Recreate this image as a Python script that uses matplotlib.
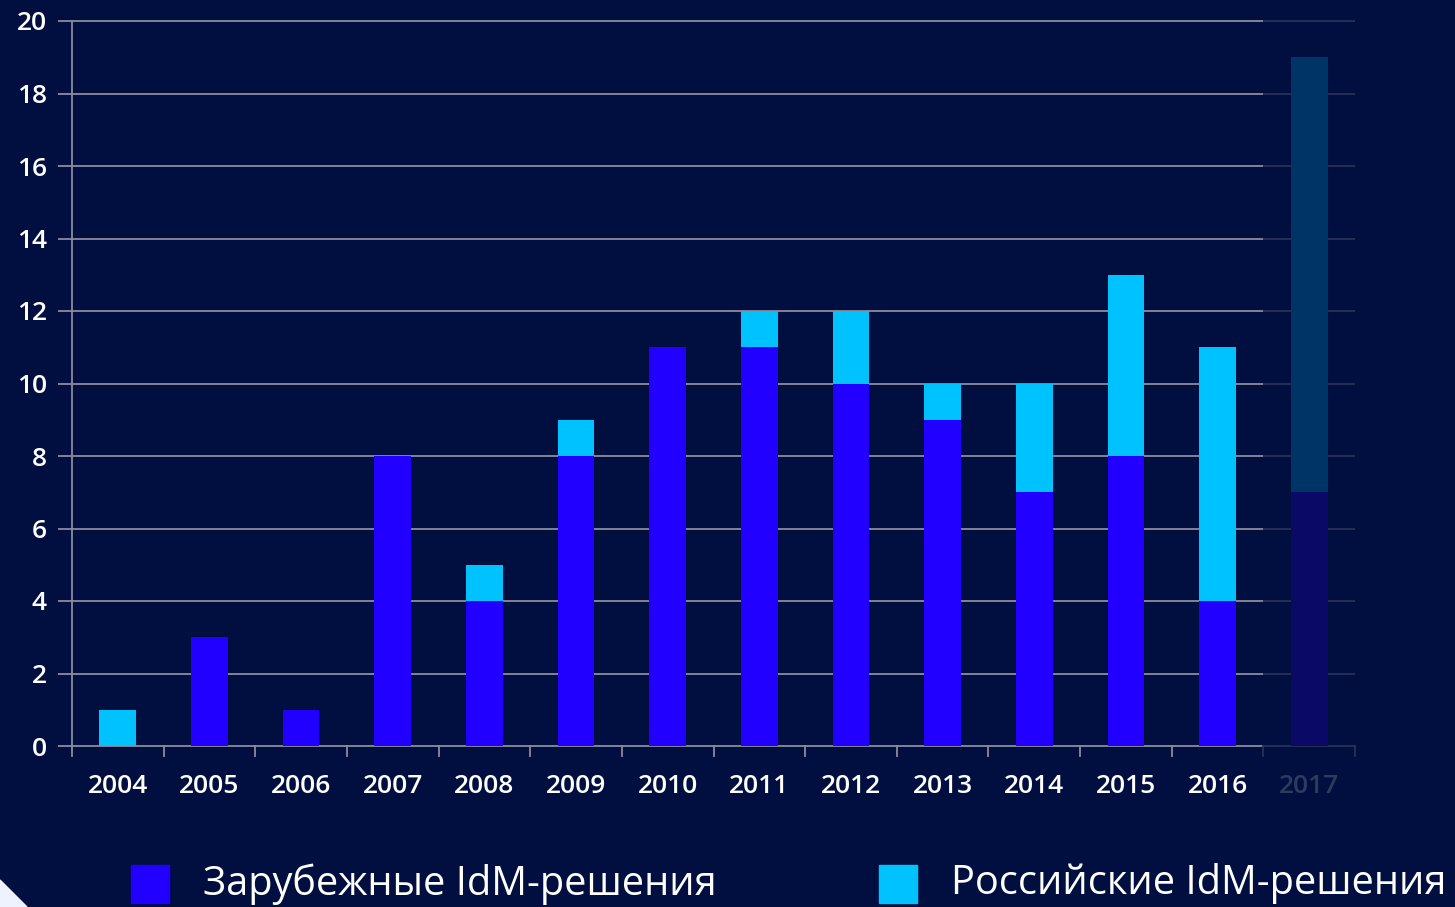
import matplotlib
matplotlib.use("Agg")
import matplotlib.pyplot as plt
from matplotlib.patches import Rectangle, Polygon
import matplotlib.transforms as mtransforms
import numpy as np

plt.rcParams['font.family'] = ['Open Sans', 'DejaVu Sans']

years = ['2004', '2005', '2006', '2007', '2008', '2009', '2010',
         '2011', '2012', '2013', '2014', '2015', '2016', '2017']
foreign = [0, 3, 1, 8, 4, 8, 11, 11, 10, 9, 7, 8, 4, 7]
russian = [1, 0, 0, 0, 1, 1, 0, 1, 2, 1, 3, 5, 7, 12]
legend_labels = ['Зарубежные IdM-решения', 'Российские IdM-решения']

bg = '#000F40'
c_foreign = '#2200FF'
c_russian = '#00C2FF'
c_foreign_fc = '#0A0A66'
c_russian_fc = '#003366'
grid_c = '#8C8C9C'
grid_dim = '#283156'

fig = plt.figure(figsize=(14.55, 9.07), dpi=100, facecolor=bg)
ax = fig.add_axes([72/1455, 1-746/907, (1355-72)/1455, (746-21)/907])
ax.set_facecolor(bg)

x = np.arange(len(years))
n_act = len(years) - 1
fc = [c_foreign] * n_act + [c_foreign_fc]
rc = [c_russian] * n_act + [c_russian_fc]
ax.bar(x, foreign, width=0.4, color=fc, zorder=3)
ax.bar(x, russian, width=0.4, bottom=foreign, color=rc, zorder=3)

ax.set_xlim(-0.5, len(years) - 0.5)
ax.set_ylim(0, 20)

# gridlines: bright over actual years, dim over forecast year
for yv in range(0, 21, 2):
    ax.hlines(yv, -0.5, n_act - 0.5, color=grid_c, lw=1.3, zorder=1, clip_on=False)
    ax.hlines(yv, n_act - 0.5, n_act + 0.5, color=grid_dim, lw=1.3, zorder=1, clip_on=False)

# category boundary tick marks below the axis
trans = mtransforms.blended_transform_factory(ax.transData, ax.transAxes)
for i, xb in enumerate(np.arange(-0.5, len(years))):
    col = grid_c if i < n_act else grid_dim
    ax.plot([xb, xb], [0, -10/725], color=col, lw=1.3, transform=trans, clip_on=False)

for s in ['top', 'right', 'bottom']:
    ax.spines[s].set_visible(False)
ax.spines['left'].set_color(grid_c)
ax.spines['left'].set_linewidth(1.3)

ax.set_yticks(range(0, 21, 2))
ax.tick_params(axis='y', colors='white', labelsize=19, length=10, width=1.3,
               color=grid_c, pad=8)
ax.set_xticks(x)
ax.set_xticklabels(years)
ax.tick_params(axis='x', length=0, labelsize=19, colors='white', pad=20)
for lab in ax.get_xticklabels() + ax.get_yticklabels():
    lab.set_fontweight('semibold')
ax.get_xticklabels()[-1].set_color('#2E3A5E')

# legend
for lx, tx, col, lab in [(131, 203, c_foreign, legend_labels[0]),
                         (879, 951, c_russian, legend_labels[1])]:
    fig.patches.append(Rectangle((lx/1455, 1-903/907), 38/1455, 38/907,
                                 transform=fig.transFigure, color=col))
    fig.text(tx/1455, 1-884/907, lab, color='white', fontsize=28.6, va='center', ha='left')

fig.patches.append(Polygon([(0, 0), (0, 27/907), (27/1455, 0)], closed=True,
                           transform=fig.transFigure, color='#EEF2FF'))

fig.savefig('out.png', dpi=100, facecolor=bg)
